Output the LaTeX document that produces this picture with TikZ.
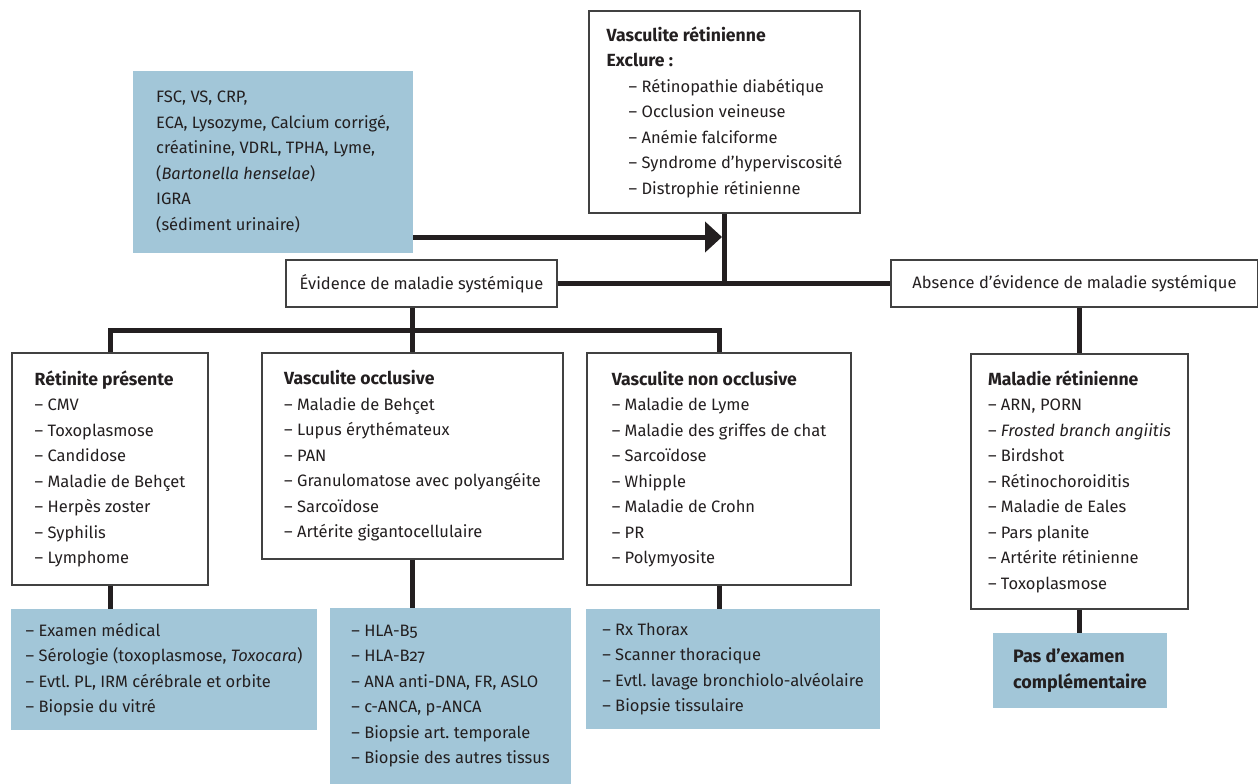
\documentclass[tikz,border=0pt]{standalone}
\usepackage{fontspec}
\setmainfont{Fira Sans}[Numbers=OldStyle]
\usetikzlibrary{arrows.meta}
\definecolor{bl}{RGB}{162,198,216}
\definecolor{ink}{RGB}{35,31,32}
\definecolor{frame}{RGB}{65,65,65}
\newcommand{\fs}{\fontsize{16.5}{25.5}\selectfont\frenchspacing}
\newcommand{\bt}[1]{{\fontsize{17.6}{25.5}\selectfont\bfseries #1}}
\newcommand{\ind}{\hspace*{22pt}}
\begin{document}
\begin{tikzpicture}[x=1pt,y=-1pt,
  wbox/.style={draw=frame, line width=1.3pt, fill=white, align=left, inner sep=0pt, font=\fs, text=ink},
  bbox/.style={fill=bl, draw=none, align=left, inner sep=0pt, font=\fs, text=ink},
  conn/.style={draw=ink, line width=5pt},
  arr/.style={draw=ink, line width=5pt, -{Triangle[length=17pt,width=30pt]}}]
\useasboundingbox (0,0) rectangle (1258,784);
% top box
\node[wbox, minimum width=271, minimum height=202] (top) at (724.5,112) {\bt{Vasculite rétinienne}\\\bt{Exclure :}\\\ind– Rétinopathie diabétique\\\ind– Occlusion veineuse\\\ind– Anémie falciforme\\\ind– Syndrome d’hyperviscosité\\\ind– Distrophie rétinienne};
% blue top
\node[bbox, minimum width=280, minimum height=182] (lab) at (273,162) {FSC, VS, CRP,\\ECA, Lysozyme, Calcium corrigé,\\créatinine, VDRL, TPHA, Lyme,\\(\textit{Bartonella henselae})\\IGRA\\(sédiment urinaire)};
% evidence boxes
\node[wbox, minimum width=271, minimum height=47, align=center] (evi) at (421.5,283.5) {Évidence de maladie systémique};
\node[wbox, minimum width=367, minimum height=47, align=center] (abs) at (1074.5,283.5) {Absence d’évidence de maladie systémique};
% second row
\node[wbox, minimum width=196, minimum height=232] (ret) at (110,469) {\bt{Rétinite présente}\\– CMV\\– Toxoplasmose\\– Candidose\\– Maladie de Behçet\\– Herpès zoster\\– Syphilis\\– Lymphome};
\node[wbox, minimum width=301, minimum height=206] (occ) at (412.5,456) {\bt{Vasculite occlusive}\\– Maladie de Behçet\\– Lupus érythémateux\\– PAN\\– Granulomatose avec polyangéite\\– Sarcoïdose\\– Artérite gigantocellulaire};
\node[wbox, minimum width=264, minimum height=232] (non) at (719,469) {\bt{Vasculite non occlusive}\\– Maladie de Lyme\\– Maladie des griffes de chat\\– Sarcoïdose\\– Whipple\\– Maladie de Crohn\\– PR\\– Polymyosite};
\node[wbox, minimum width=217, minimum height=255] (mal) at (1079.5,481.5) {\bt{Maladie rétinienne}\\– ARN, PORN\\– \textit{Frosted branch angiitis}\\– Birdshot\\– Rétinochoroiditis\\– Maladie de Eales\\– Pars planite\\– Artérite rétinienne\\– Toxoplasmose};
% bottom blue boxes
\node[bbox, minimum width=306, minimum height=121] (ex1) at (164,669.5) {– Examen médical\\– Sérologie (toxoplasmose, \textit{Toxocara})\\– Evtl. PL, IRM cérébrale et orbite\\– Biopsie du vitré};
\node[bbox, minimum width=241, minimum height=176] (ex2) at (450.5,696) {– HLA-B5\\– HLA-B27\\– ANA anti-DNA, FR, ASLO\\– c-ANCA, p-ANCA\\– Biopsie art. temporale\\– Biopsie des autres tissus};
\node[bbox, minimum width=294, minimum height=120] (ex3) at (733,669) {– Rx Thorax\\– Scanner thoracique\\– Evtl. lavage bronchiolo-alvéolaire\\– Biopsie tissulaire};
\node[bbox, minimum width=174, minimum height=75, font=\fontsize{18}{25.5}\selectfont\bfseries] (ex4) at (1080,670.5) {Pas d’examen\\complémentaire};
% connectors
\coordinate (j1) at (724,283);
\coordinate (j2) at (412,330);
\draw[conn] (top.south -| j1) -- (j1);
\draw[conn] (evi.east) -- (abs.west);
\draw[arr] (lab.east |- 0,237) -- (722,237);
\draw[conn] (evi.south -| j2) -- (j2);
\draw[conn] (ret.north) -- (ret.north |- j2) -- (non.north |- j2) -- (non.north);
\draw[conn] (j2) -- (occ.north -| j2);
\draw[conn] (ret.south) -- (ex1.north -| ret.south);
\draw[conn] (occ.south -| j2) -- (ex2.north -| j2);
\draw[conn] (non.south) -- (ex3.north -| non.south);
\draw[conn] (abs.south -| mal.north) -- (mal.north);
\draw[conn] (mal.south) -- (ex4.north -| mal.south);
\end{tikzpicture}
\end{document}
